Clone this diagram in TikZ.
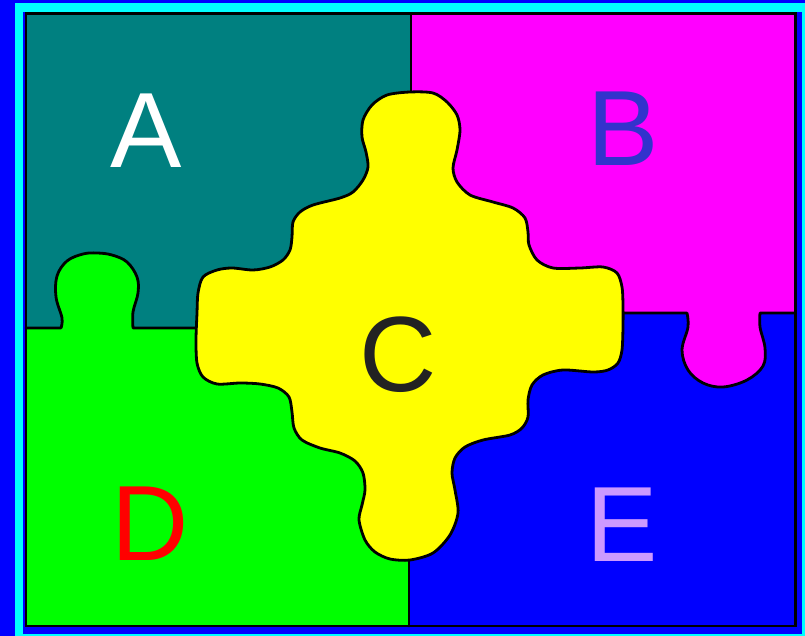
\documentclass[tikz,border=0pt]{standalone}
\usepackage{fontspec}
\setmainfont{Liberation Sans}
\begin{document}
\begin{tikzpicture}[x=1pt,y=-1pt,
  edge/.style={draw=black,line width=2.8pt,line join=round,line cap=round},
  letter/.style={anchor=base,inner sep=0pt,font=\fontsize{107}{107}\selectfont}]
\definecolor{bg}{RGB}{0,0,255}
\definecolor{frm}{RGB}{0,255,255}
\definecolor{pa}{RGB}{0,128,128}
\definecolor{pb}{RGB}{255,0,255}
\definecolor{pc}{RGB}{255,255,0}
\definecolor{pd}{RGB}{0,255,0}
\definecolor{pe}{RGB}{0,0,255}
\definecolor{lb}{RGB}{51,51,204}
\definecolor{lc}{RGB}{34,34,34}
\definecolor{le}{RGB}{204,153,255}
\useasboundingbox (0,0) rectangle (805,636);
\fill[bg] (0,0) rectangle (805,636);
\draw[frm,line width=8.5pt] (19,7.5) rectangle (806,638.5);
% quadrants
\fill[pa] (26,14) rectangle (411,328);
\fill[pb] (411,14) rectangle (795,313);
\fill[pd] (26,328) rectangle (410,626);
\fill[pe] (410,313) rectangle (795,626);
% green tab (D into A)
\fill[pd] plot[smooth,tension=0.6] coordinates {(61,329) (62,318) (56,297) (57,276) (67,261) (83,254) (97,253) (112,255) (127,262) (137,277) (138,293) (133,312) (133,329)} -- cycle;
\draw[edge] (26,328) -- (61,328) plot[smooth,tension=0.6] coordinates {(61,328) (62,318) (56,297) (57,276) (67,261) (83,254) (97,253) (112,255) (127,262) (137,277) (138,293) (133,312) (133,328)} -- (260,328);
% magenta tab (B into E)
\fill[pb] plot[smooth,tension=0.6] coordinates {(687,312) (688,327) (682,350) (688,370) (703,383) (723,387) (747,380) (763,366) (765,348) (760,327) (760,312)} -- cycle;
\draw[edge] (560,313) -- (687,313) plot[smooth,tension=0.6] coordinates {(687,313) (688,327) (682,350) (688,370) (703,383) (723,387) (747,380) (763,366) (765,348) (760,327) (760,313)} -- (795,313);
% vertical borders
\draw[edge] (411,14) -- (411,200);
\draw[edge] (409,450) -- (409,626);
% centre piece C
\filldraw[fill=pc,edge] plot[smooth cycle,tension=0.5] coordinates {
(410,92) (433,93) (447,102) (457,115) (460,130) (457,150) (453,168) (457,182) (470,195) (493,202) (513,208) (525,218) (528,232) (529,245) (537,260) (553,268) (580,268) (603,267) (617,273) (622,287) (623,305) (623,327) (622,350) (618,363) (608,370) (593,372) (563,370) (543,375) (532,385) (528,400) (528,417) (522,428) (510,435) (483,440) (465,447) (455,458) (452,473) (455,490) (458,513) (450,535) (433,553) (410,560) (390,559) (375,552) (365,540) (359,520) (362,505) (365,490) (363,473) (355,461) (340,453) (320,448) (302,440) (294,428) (292,412) (289,397) (278,388) (260,384) (240,383) (217,384) (203,377) (197,363) (196,340) (197,313) (198,293) (203,277) (217,270) (232,268) (253,270) (270,267) (283,260) (290,250) (292,237) (293,222) (300,212) (313,205) (340,198) (353,192) (363,180) (368,167) (366,152) (362,137) (363,120) (372,105) (387,95)};
% outer black frame
\draw[black,line width=2.8pt] (26,13.5) rectangle (795.5,626);
% letters
\node[letter,text=white] (la) at (146,168) {A};
\node[letter,text=lb] (lbn) at (623,166) {B};
\node[letter,text=lc] (lcn) at (398,391) {C};
\node[letter,text=red] (ldn) at (150,560) {D};
\node[letter,text=le] (len) at (622,561) {E};
\end{tikzpicture}
\end{document}
